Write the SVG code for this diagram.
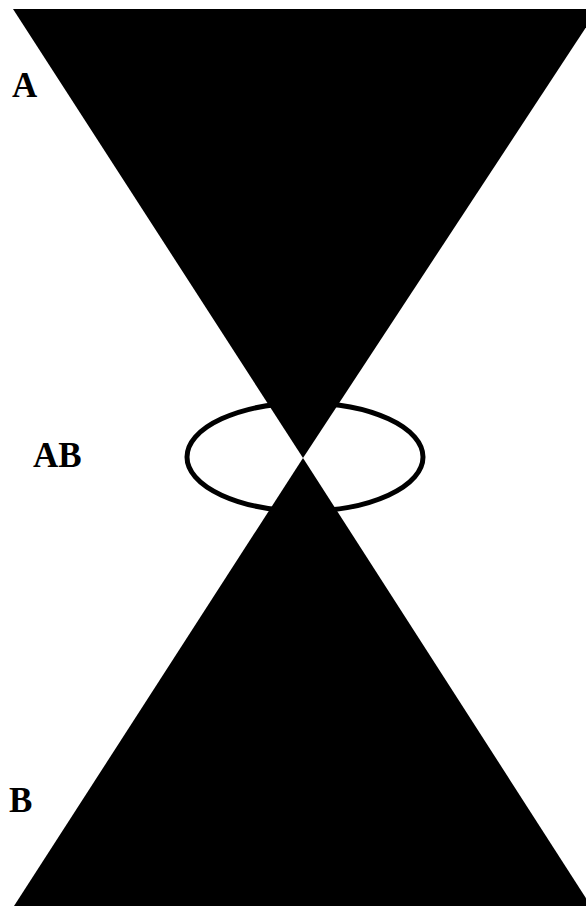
<svg xmlns="http://www.w3.org/2000/svg" width="586" height="909" viewBox="0 0 586 909">
<style>
.cone{fill:#000;stroke:none}
.lbl{font-family:"Liberation Serif","Times New Roman",serif;font-weight:bold;font-size:35px;fill:#000}
.ring{fill:none;stroke:#000;stroke-width:5}
</style>
<rect width="586" height="909" fill="#fff"/>
<g id="coneA"><polygon class="cone" points="13,9 598,9 303,458"/></g>
<g id="coneB"><polygon class="cone" points="303,458 591,906 14,906"/></g>
<g id="ringAB"><ellipse class="ring" cx="305" cy="457" rx="118" ry="54"/></g>
<g id="labelA"><text class="lbl" x="12" y="97">A</text></g>
<g id="labelAB"><text class="lbl" x="33" y="467">AB</text></g>
<g id="labelB"><text class="lbl" x="9" y="812">B</text></g>
</svg>
